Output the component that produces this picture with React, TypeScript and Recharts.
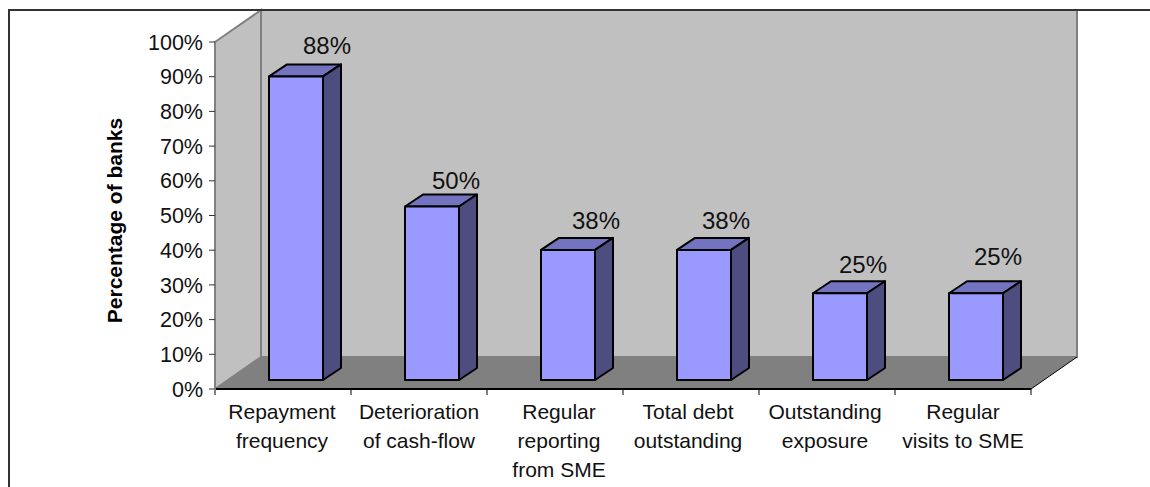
import { BarChart, Bar, XAxis, YAxis, Label, LabelList, ReferenceArea } from "recharts";

// Each "\n" is a line break in the axis label
const categories = [
  "Repayment\nfrequency",
  "Deterioration\nof cash-flow",
  "Regular\nreporting\nfrom SME",
  "Total debt\noutstanding",
  "Outstanding\nexposure",
  "Regular\nvisits to SME",
];
const shares = [87.5, 50, 37.5, 37.5, 25, 25];
const yTicks = [0, 10, 20, 30, 40, 50, 60, 70, 80, 90, 100];

const data = categories.map((name, i) => ({ name, share: shares[i] }));

const WIDTH = 1150;
const HEIGHT = 487;
const FONT = "'Liberation Sans', Arial, sans-serif";
const BAND = 136;

// how far the chart box and each bar run "into" the page
const WALL_DX = 46;
const WALL_DY = -32;
const BAR_DX = 18;
const BAR_DY = -12;
const BAR_SHIFT_X = 13;
const BAR_SHIFT_Y = -9;

// hand nudges for the data labels and category labels, same order as the bars
const labelNudges = [
  [31, -31],
  [24, -26],
  [28, -29],
  [22, -29],
  [23, -29],
  [22, -37],
];
const categoryNudges = [-1, 0, 4, -3, -2, 0];

function Box({ x, y, width, height }: any) {
  const b = y + height;
  const r = x + width;
  return (
    <g>
      <rect x={x + WALL_DX} y={y + WALL_DY} width={width} height={height} fill="#c0c0c0" stroke="#808080" strokeWidth={2} />
      <polygon
        points={`${x},${y} ${x + WALL_DX},${y + WALL_DY} ${x + WALL_DX},${b + WALL_DY} ${x},${b}`}
        fill="#c0c0c0"
        stroke="#808080"
        strokeWidth={2}
      />
      <polygon points={`${x},${b} ${x + WALL_DX},${b + WALL_DY} ${r + WALL_DX},${b + WALL_DY} ${r},${b}`} fill="#808080" />
      <line x1={r} y1={b} x2={r + WALL_DX} y2={b + WALL_DY} stroke="#000" strokeWidth={1} />
    </g>
  );
}

function Bar3D({ x, y, width, height }: any) {
  const l = x + BAR_SHIFT_X;
  const t = y + BAR_SHIFT_Y;
  const r = l + width;
  const b = t + height;
  return (
    <g stroke="#000" strokeWidth={2} strokeLinejoin="round">
      <polygon points={`${l},${t} ${l + BAR_DX},${t + BAR_DY} ${r + BAR_DX},${t + BAR_DY} ${r},${t}`} fill="#7373bf" />
      <polygon points={`${r},${t} ${r + BAR_DX},${t + BAR_DY} ${r + BAR_DX},${b + BAR_DY} ${r},${b}`} fill="#4d4d80" />
      <rect x={l} y={t} width={width} height={height} fill="#9999ff" />
    </g>
  );
}

function CategoryTick({ x, y, payload, index }: any) {
  const lines = String(payload.value).split("\n");
  const tickY = y - 8;
  const cx = x + categoryNudges[index];
  return (
    <g>
      <line x1={x + BAND / 2} y1={tickY} x2={x + BAND / 2} y2={tickY + 6} stroke="#000" />
      {index === 0 && <line x1={x - BAND / 2} y1={tickY} x2={x - BAND / 2} y2={tickY + 6} stroke="#808080" strokeWidth={2} />}
      <text x={cx} y={y + 22} textAnchor="middle" fontFamily={FONT} fontSize={21} fill="#111">
        {lines.map((line, i) => (
          <tspan key={i} x={cx} dy={i === 0 ? 0 : 29}>
            {line}
          </tspan>
        ))}
      </text>
    </g>
  );
}

function ValueLabel({ x, y, width, value, index }: any) {
  const [dx, dy] = labelNudges[index];
  return (
    <text
      x={x + BAR_SHIFT_X + width / 2 + dx}
      y={y + BAR_SHIFT_Y + dy}
      textAnchor="middle"
      dominantBaseline="central"
      fontFamily={FONT}
      fontSize={24}
      fill="#111"
    >
      {Math.round(value)}%
    </text>
  );
}

export default function App() {
  return (
    <div style={{ position: "absolute", left: 0, top: 0, width: WIDTH, height: HEIGHT, overflow: "hidden", background: "#fff" }}>
      <BarChart
        width={WIDTH}
        height={HEIGHT}
        data={data}
        margin={{ top: 42, right: 119, bottom: 0, left: 0 }}
        barCategoryGap={0}
      >
        <ReferenceArea y1={0} y2={100} ifOverflow="visible" shape={Box} />
        <XAxis
          dataKey="name"
          height={98}
          interval={0}
          axisLine={{ stroke: "#000", strokeWidth: 2 }}
          tickLine={false}
          tick={CategoryTick}
        />
        <YAxis
          width={215}
          domain={[0, 100]}
          ticks={yTicks}
          interval={0}
          tickFormatter={(v: number) => `${v}%`}
          axisLine={{ stroke: "#808080", strokeWidth: 2 }}
          tickLine={{ stroke: "#333" }}
          tickSize={6}
          tickMargin={6}
          tick={{ fontFamily: FONT, fontSize: 21.5, fill: "#111" }}
        >
          <Label
            value="Percentage of banks"
            position="center"
            angle={-90}
            dx={7}
            dy={5}
            style={{ fontFamily: FONT, fontSize: 21, fontWeight: 700, fill: "#000" }}
          />
        </YAxis>
        <Bar dataKey="share" barSize={54} isAnimationActive={false} shape={Bar3D}>
          <LabelList dataKey="share" content={ValueLabel} />
        </Bar>
      </BarChart>
      <div style={{ position: "absolute", left: 8, top: 9, right: 0, bottom: 0, borderTop: "2px solid #333", borderLeft: "2px solid #333" }} />
    </div>
  );
}
